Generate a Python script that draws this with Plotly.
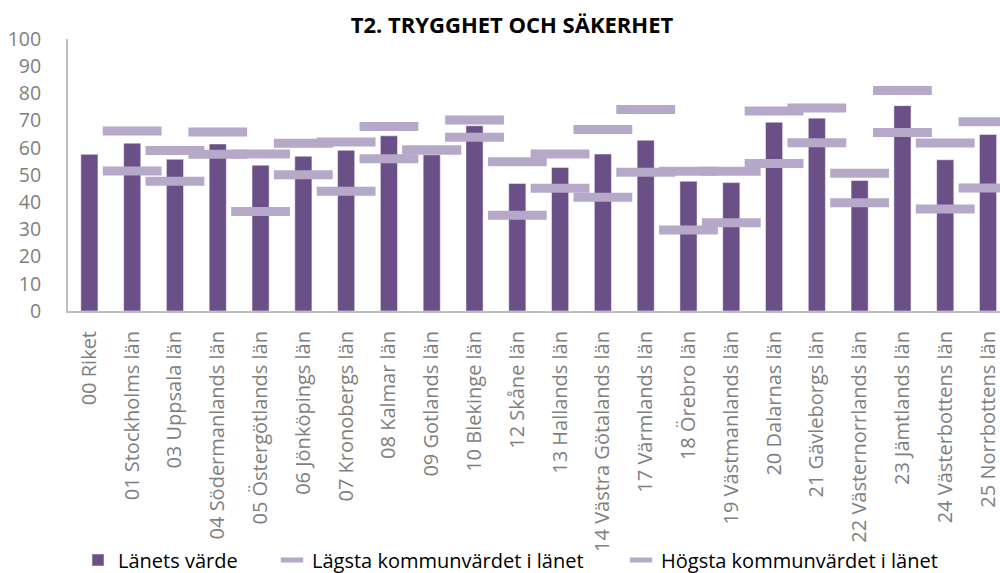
import plotly.graph_objects as go

categories = ["00 Riket", "01 Stockholms län", "03 Uppsala län", "04 Södermanlands län",
              "05 Östergötlands län", "06 Jönköpings län", "07 Kronobergs län", "08 Kalmar län",
              "09 Gotlands län", "10 Blekinge län", "12 Skåne län", "13 Hallands län",
              "14 Västra Götalands län", "17 Värmlands län", "18 Örebro län", "19 Västmanlands län",
              "20 Dalarnas län", "21 Gävleborgs län", "22 Västernorrlands län", "23 Jämtlands län",
              "24 Västerbottens län", "25 Norrbottens län"]
lanets_varde = [57.6, 61.7, 55.8, 61.4, 53.6, 56.9, 59.1, 64.4, 57.4, 68.1, 46.9, 52.8,
                57.7, 62.8, 47.7, 47.2, 69.4, 70.9, 48.0, 75.5, 55.6, 64.9]
lagsta = [None, 51.5, 47.7, 57.6, 36.6, 50.1, 44.0, 56.0, 59.2, 63.9, 35.2, 45.1,
          41.8, 51.0, 29.8, 32.4, 54.2, 61.9, 39.8, 65.6, 37.5, 45.2]
hogsta = [None, 66.2, 59.0, 65.8, 57.7, 61.7, 62.1, 67.8, 59.2, 70.2, 54.9, 57.7,
          66.7, 74.1, 51.4, 51.4, 73.5, 74.6, 50.6, 81.1, 61.8, 69.6]
y_ticks = [0, 10, 20, 30, 40, 50, 60, 70, 80, 90, 100]

BAR = "#6a5087"
MARK = "#b5a8c8"
FONT = "Open Sans"

fig = go.Figure()
fig.add_trace(go.Bar(x=categories, y=lanets_varde, name="Länets värde", legend="legend",
                     marker=dict(color=BAR, line=dict(color="rgba(255,255,255,0.6)", width=0.8)),
                     width=0.4))
for name, vals, lg in [("Lägsta kommunvärdet i länet", lagsta, "legend2"),
                       ("Högsta kommunvärdet i länet", hogsta, "legend3")]:
    fig.add_trace(go.Scatter(x=categories, y=vals, name=name, mode="markers", legend=lg,
                             marker=dict(symbol="line-ew", size=42,
                                         line=dict(color=MARK, width=9))))

def leg(xpx):
    return dict(orientation="h", xref="container", yref="container",
                x=xpx / 1000, xanchor="left", y=1 - 560 / 573, yanchor="middle",
                font=dict(family=FONT, size=20, color="black"),
                itemwidth=30, bgcolor="rgba(0,0,0,0)")

fig.update_layout(
    width=1000, height=573,
    margin=dict(l=68, r=0, t=39, b=262),
    paper_bgcolor="white", plot_bgcolor="white",
    font=dict(family=FONT, color="#7f7f7f"),
    title=dict(text="<b>T2. TRYGGHET OCH SÄKERHET</b>", x=0.512, xanchor="center",
               xref="container", y=1 - 25 / 573, yanchor="middle", yref="container",
               font=dict(family=FONT, size=22, color="black")),
    showlegend=True,
    legend=leg(78),
    legend2=leg(272),
    legend3=leg(621),
    bargap=0.6,
)
fig.update_xaxes(type="category", range=[-0.5, 21.28], tickangle=-90,
                 showline=True, linecolor="#bfbfbf", linewidth=2, showgrid=False,
                 ticks="", ticklabelstandoff=10, automargin=False,
                 tickfont=dict(family=FONT, size=20, color="#7f7f7f"))
fig.update_yaxes(range=[0, 100], tickvals=y_ticks, showline=True, linecolor="#bfbfbf",
                 linewidth=2, showgrid=False, zeroline=False, ticks="",
                 ticklabelstandoff=21, automargin=False,
                 tickfont=dict(family=FONT, size=19.5, color="#7f7f7f"))

fig.write_html("out.html", config={"displayModeBar": False},
               post_script="document.body.style.margin='0';")
